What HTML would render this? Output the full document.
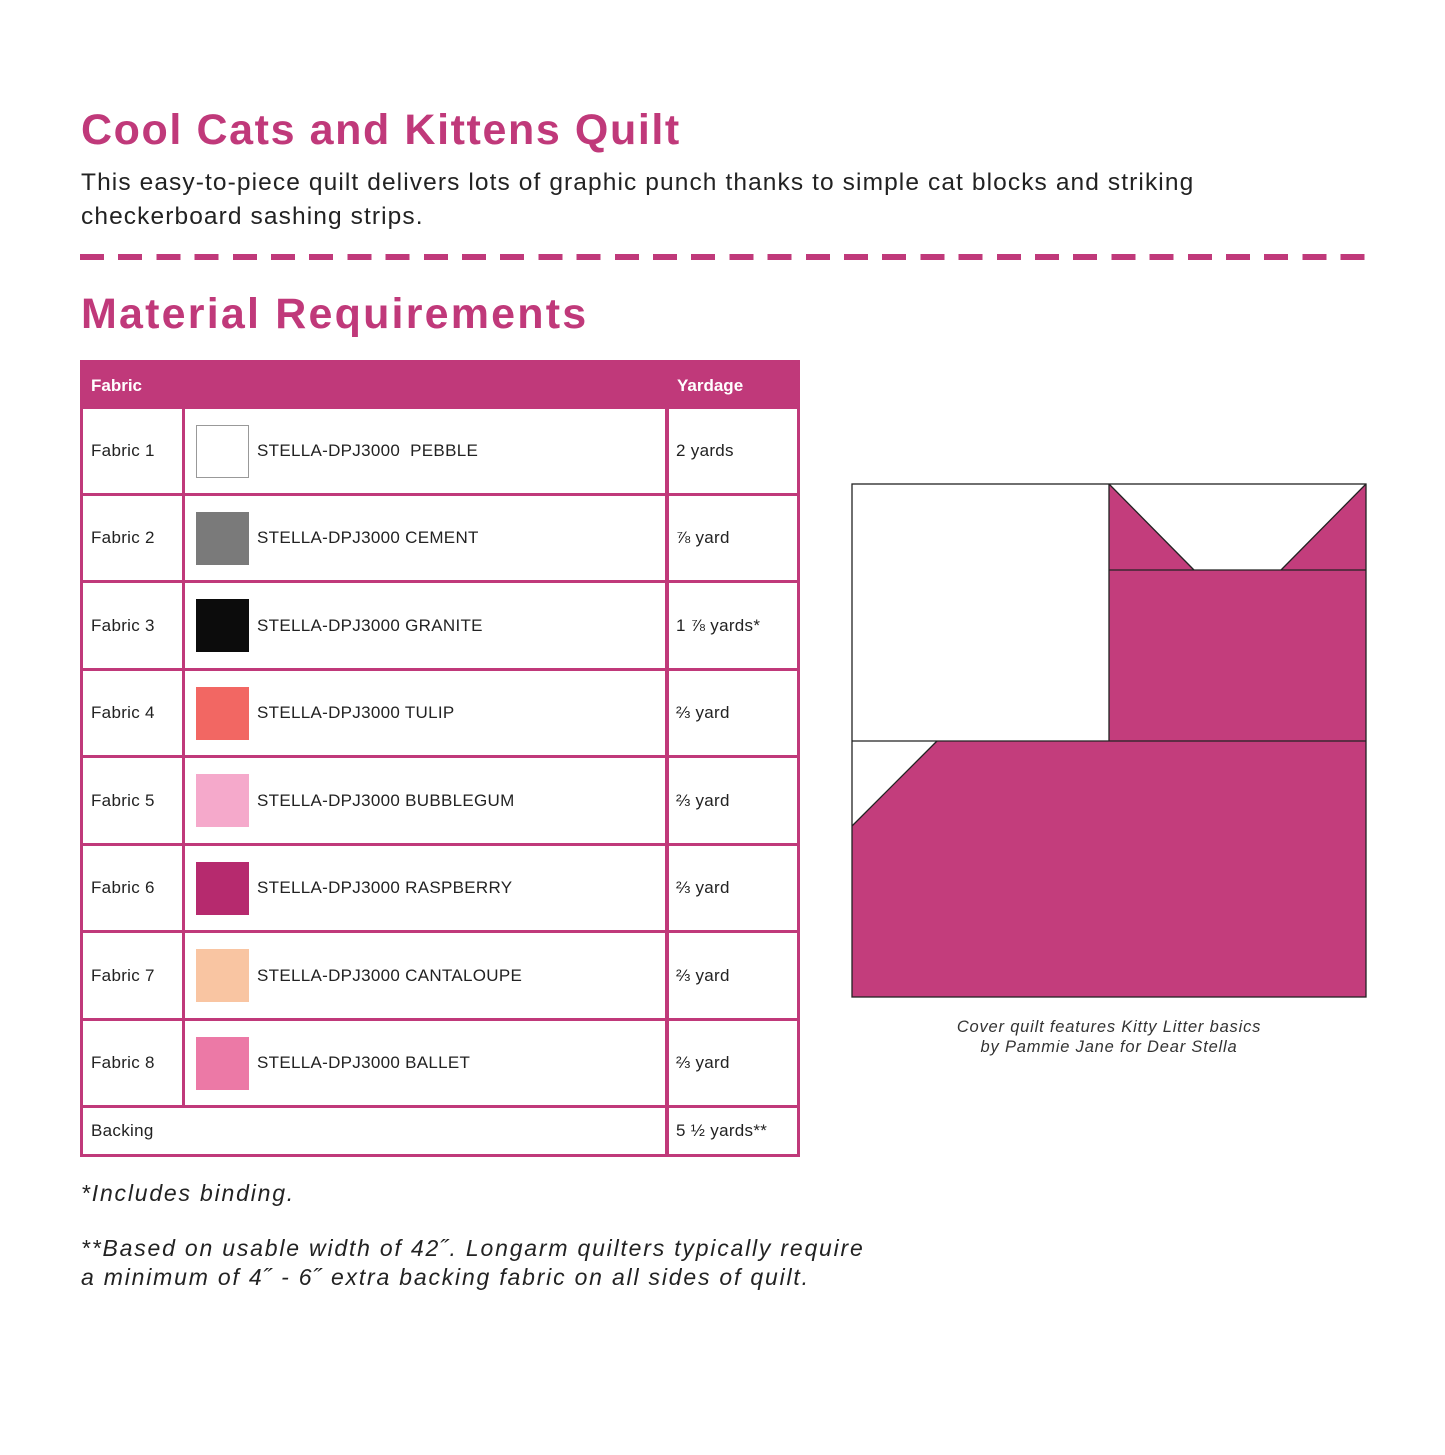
<!DOCTYPE html>
<html><head><meta charset="utf-8"><style>
body{margin:0;width:1445px;height:1455px;background:#fff;font-family:"Liberation Sans",sans-serif;position:relative;overflow:hidden}
.a{position:absolute}
h1{position:absolute;margin:0;color:#c0397a;font-weight:bold;font-size:43px;left:81px}
.desc{left:81px;top:166px;font-size:24.5px;color:#222;line-height:34px;width:1200px;letter-spacing:1.1px}
.dash{left:80px;top:254px;width:1290px;height:6px;background:repeating-linear-gradient(90deg,#c0397a 0 24px,transparent 24px 38.2px)}
.tbl{left:80px;top:360px;width:720px;height:797px;background:#c0397a}
.cell{position:absolute;background:#fff;font-size:17px;color:#222;display:flex;align-items:center;letter-spacing:0.3px}
.hd{position:absolute;color:#fff;font-weight:bold;font-size:17px;top:376px}
.sw{width:53px;height:53px;margin:0 8px 0 11px;box-sizing:border-box}
.foot{left:81px;font-size:23px;font-style:italic;color:#222;line-height:29px;letter-spacing:1.8px}
</style></head><body>
<h1 style="top:106px;letter-spacing:1.6px">Cool Cats and Kittens Quilt</h1>
<div class="a desc">This easy-to-piece quilt delivers lots of graphic punch thanks to simple cat blocks and striking<br>checkerboard sashing strips.</div>
<div class="a dash"></div>
<h1 style="top:290px;letter-spacing:2.2px">Material Requirements</h1>
<div class="a tbl"></div>
<div class="hd" style="left:91px">Fabric</div>
<div class="hd" style="left:677px">Yardage</div>
<div id="rows"></div>
<script>
var r=[["Fabric 1","STELLA-DPJ3000&nbsp; PEBBLE","2 yards","#fff"],["Fabric 2","STELLA-DPJ3000 CEMENT","⅞ yard","#7a7a7a"],["Fabric 3","STELLA-DPJ3000 GRANITE","1 ⅞ yards*","#0c0c0c"],["Fabric 4","STELLA-DPJ3000 TULIP","⅔ yard","#f26763"],["Fabric 5","STELLA-DPJ3000 BUBBLEGUM","⅔ yard","#f5a9cb"],["Fabric 6","STELLA-DPJ3000 RASPBERRY","⅔ yard","#b62a6e"],["Fabric 7","STELLA-DPJ3000 CANTALOUPE","⅔ yard","#f9c5a2"],["Fabric 8","STELLA-DPJ3000 BALLET","⅔ yard","#ec79a6"]];
var h="",t=[406,493,580,668,755,843,930,1018,1105];
for(var i=0;i<8;i++){var y=t[i]+3,hh=t[i+1]-t[i]-3;
h+='<div class="cell" style="left:83px;top:'+y+'px;width:99px;height:'+hh+'px"><span style="margin-left:8px">'+r[i][0]+'</span></div>';
h+='<div class="cell" style="left:185px;top:'+y+'px;width:480px;height:'+hh+'px"><div class="sw" style="background:'+r[i][3]+(i==0?';border:1px solid #999':'')+'"></div>'+r[i][1]+'</div>';
h+='<div class="cell" style="left:669px;top:'+y+'px;width:128px;height:'+hh+'px"><span style="margin-left:7px">'+r[i][2]+'</span></div>';}
h+='<div class="cell" style="left:83px;top:1108px;width:582px;height:46px"><span style="margin-left:8px">Backing</span></div>';
h+='<div class="cell" style="left:669px;top:1108px;width:128px;height:46px"><span style="margin-left:7px">5 ½ yards**</span></div>';
document.getElementById("rows").innerHTML=h;
</script>
<svg class="a" style="left:851px;top:483px" width="516" height="515">
<rect x="1" y="1" width="514" height="513" fill="#c33d7c"/>
<rect x="1" y="1" width="257" height="257" fill="#fff"/>
<polygon points="258,1 515,1 430,87 343,87" fill="#fff"/>
<polygon points="1,258 86,258 1,343" fill="#fff"/>
<g stroke="#222" stroke-width="1.3" fill="none">
<rect x="1" y="1" width="514" height="513"/>
<line x1="258" y1="1" x2="258" y2="258"/><line x1="1" y1="258" x2="515" y2="258"/>
<line x1="258" y1="87" x2="515" y2="87"/>
<polyline points="258,1 343,87"/><polyline points="515,1 430,87"/><polyline points="86,258 1,343"/>
</g>
</svg>
<div class="a" style="left:852px;top:1017px;width:514px;text-align:center;font-size:16.5px;font-style:italic;color:#333;line-height:20px;letter-spacing:0.8px">Cover quilt features Kitty Litter basics<br>by Pammie Jane for Dear Stella</div>
<div class="a foot" style="top:1179px">*Includes binding.</div>
<div class="a foot" style="top:1234px">**Based on usable width of 42˝. Longarm quilters typically require<br>a minimum of 4˝ - 6˝ extra backing fabric on all sides of quilt.</div>
</body></html>
